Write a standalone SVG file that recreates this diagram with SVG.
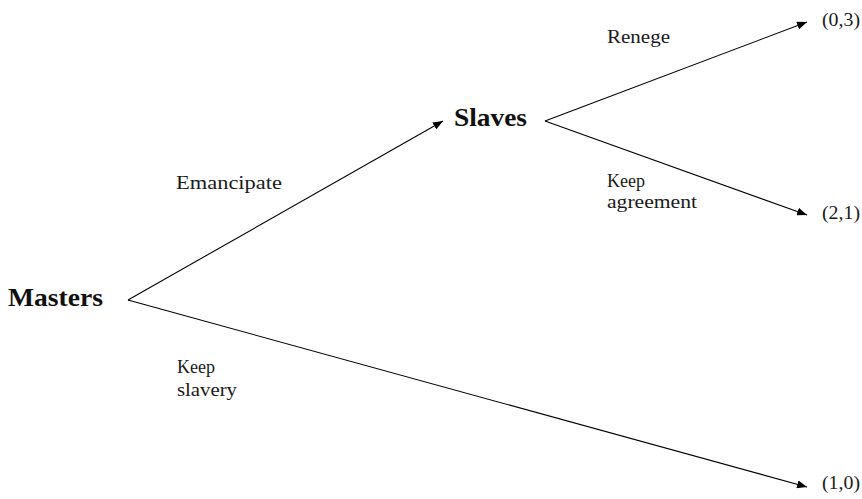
<svg xmlns="http://www.w3.org/2000/svg" width="862" height="499" viewBox="0 0 862 499">
<style>
.edge{stroke:#000;stroke-width:1.1;fill:none;marker-end:url(#ah)}
.lbl{font-family:"Liberation Serif","Times New Roman",serif;font-size:19px;fill:#1a1a1a}
.node{font-family:"Liberation Serif","Times New Roman",serif;font-size:25px;font-weight:bold;fill:#111}
</style>
<defs>
<marker id="ah" viewBox="0 0 10 8" refX="10" refY="4" markerWidth="10" markerHeight="8" markerUnits="userSpaceOnUse" orient="auto">
<path d="M0,0 L10,4 L0,8 Z" fill="#000"/>
</marker>
</defs>
<rect width="862" height="499" fill="#fff"/>
<g id="connectors">
<path class="edge" d="M128,300 L443,121"/>
<path class="edge" d="M128,300 L807,487"/>
<path class="edge" d="M545,121 L807,22"/>
<path class="edge" d="M545,121 L807,215"/>
</g>
<g id="masters"><text class="node" x="8" y="306" textLength="95" lengthAdjust="spacingAndGlyphs">Masters</text></g>
<g id="slaves"><text class="node" x="454" y="126" textLength="73" lengthAdjust="spacingAndGlyphs">Slaves</text></g>
<g id="payoff03"><text class="lbl" x="822" y="26" textLength="38" lengthAdjust="spacingAndGlyphs">(0,3)</text></g>
<g id="payoff21"><text class="lbl" x="822" y="219" textLength="38" lengthAdjust="spacingAndGlyphs">(2,1)</text></g>
<g id="payoff10"><text class="lbl" x="822" y="489" textLength="38" lengthAdjust="spacingAndGlyphs">(1,0)</text></g>
<g id="labels">
<text class="lbl" x="607" y="43" textLength="63" lengthAdjust="spacingAndGlyphs">Renege</text>
<text class="lbl" x="607" y="187" textLength="38" lengthAdjust="spacingAndGlyphs">Keep</text>
<text class="lbl" x="607" y="208" textLength="90" lengthAdjust="spacingAndGlyphs">agreement</text>
<text class="lbl" x="176" y="189" textLength="106" lengthAdjust="spacingAndGlyphs">Emancipate</text>
<text class="lbl" x="177" y="373" textLength="38" lengthAdjust="spacingAndGlyphs">Keep</text>
<text class="lbl" x="177" y="396" textLength="60" lengthAdjust="spacingAndGlyphs">slavery</text>
</g>
</svg>
